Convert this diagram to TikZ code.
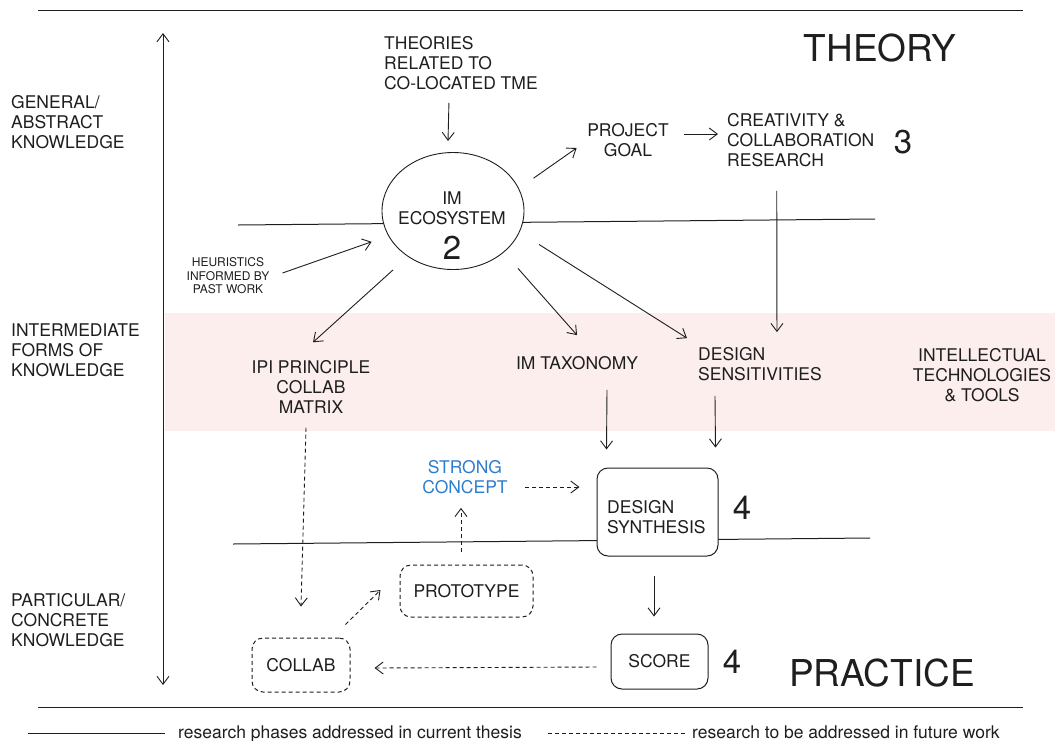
\documentclass[tikz,border=0pt]{standalone}
\usepackage{fontspec}
\setmainfont{TeX Gyre Heros}
\usetikzlibrary{arrows.meta,shapes.geometric}
\definecolor{ink}{RGB}{30,30,30}
\definecolor{band}{RGB}{252,238,237}
\definecolor{conceptblue}{RGB}{45,125,205}
\begin{document}
\begin{tikzpicture}[x=1pt,y=-1pt,
  txt/.style={inner sep=0pt, text=ink, font=\fontsize{17.5}{20}\selectfont},
  smalltxt/.style={inner sep=0pt, text=ink, font=\fontsize{12}{13.5}\selectfont},
  numtxt/.style={inner sep=0pt, text=ink, font=\fontsize{33}{36}\selectfont},
  bigtxt/.style={inner sep=0pt, text=ink, font=\fontsize{37}{40}\selectfont},
  arr/.style={draw=ink, line width=0.9pt, -{Straight Barb[length=8pt,width=12pt]}},
  darr/.style={arr, dash pattern=on 4pt off 3pt},
  rule/.style={draw=ink, line width=1pt},
  solidbox/.style={draw=ink, line width=1pt, rounded corners=11pt, fill=white, inner sep=0pt},
  dashbox/.style={solidbox, dash pattern=on 4pt off 3pt}]
\useasboundingbox (0,0) rectangle (1055,740);
% pink band
\fill[band] (165,313) rectangle (1055,431);
% horizontal rules
\draw[rule] (38,10) -- (1023,10);
\draw[rule] (38,707) -- (1023,707);
\draw[rule] (238,225) -- (875,219);
\draw[rule] (233,544) -- (870,538);
% vertical axis
\coordinate (axtop) at (163,33);
\coordinate (axbot) at (163,685);
\draw[draw=ink, line width=0.9pt, {Straight Barb[length=8pt,width=12pt]}-{Straight Barb[length=8pt,width=12pt]}] (axtop) -- (axbot);
% left labels
\node[txt, align=left, anchor=west] (lgen) at (11,122) {GENERAL/\\ABSTRACT\\KNOWLEDGE};
\node[txt, align=left, anchor=west] (lint) at (11,350) {INTERMEDIATE\\FORMS OF\\KNOWLEDGE};
\node[txt, align=left, anchor=west] (lpar) at (11,620) {PARTICULAR/\\CONCRETE\\KNOWLEDGE};
% titles
\node[bigtxt] (theory) at (880,48) {THEORY};
\node[bigtxt] (practice) at (882,673) {PRACTICE};
% nodes
\node[txt, align=left, anchor=west] (theories) at (384,63) {THEORIES\\RELATED TO\\CO-LOCATED TME};
\node[ellipse, draw=ink, line width=0.9pt, fill=white, minimum width=142pt, minimum height=117pt, inner sep=0pt] (eco) at (453,211) {};
\node[txt, align=center] (ecotxt) at (452,208) {IM\\ECOSYSTEM};
\node[numtxt] (n2) at (452,248) {2};
\node[txt, align=center] (goal) at (628,140) {PROJECT\\GOAL};
\node[txt, align=left, anchor=west] (creat) at (727,140) {CREATIVITY \&\\COLLABORATION\\RESEARCH};
\node[numtxt] (n3) at (903,142) {3};
\node[smalltxt, align=center] (heur) at (228,276) {HEURISTICS\\INFORMED BY\\PAST WORK};
\node[txt, align=center] (ipi) at (311,387) {IPI PRINCIPLE\\COLLAB\\MATRIX};
\node[txt] (tax) at (577,363) {IM TAXONOMY};
\node[txt, align=left, anchor=west] (desens) at (698,364) {DESIGN\\SENSITIVITIES};
\node[txt, align=center] (intel) at (982,375) {INTELLECTUAL\\TECHNOLOGIES\\\& TOOLS};
\node[txt, align=center, text=conceptblue] (strong) at (465,477) {STRONG\\CONCEPT};
\node[solidbox, minimum width=121pt, minimum height=88pt] (dsyn) at (657.5,512) {};
\node[txt, align=left, anchor=west] (dsyntxt) at (607,517) {DESIGN\\SYNTHESIS};
\node[numtxt] (n4a) at (742,508) {4};
\node[txt, solidbox, minimum width=97pt, minimum height=55pt] (sc) at (659.5,661.5) {\raisebox{-4pt}{SCORE}};
\node[numtxt] (n4b) at (732,662) {4};
\node[txt, dashbox, minimum width=133pt, minimum height=52pt] (pro) at (466.5,591) {PROTOTYPE};
\node[txt, dashbox, minimum width=98pt, minimum height=54pt] (col) at (301,665) {COLLAB};
% connectors
\draw[arr] ([shift={(-12,13)}]theories.south) -- ([shift={(-5,-11)}]eco.north);
\draw[arr] ([shift={(22,1)}]eco.30) -- ([shift={(-10.5,8)}]goal.west);
\draw[arr] ([shift={(15,-6)}]goal.east) -- ([shift={(-9,-6)}]creat.west);
\draw[arr] ([shift={(-24,24)}]creat.south) -- ([shift={(17,-15)}]desens.north);
\draw[arr] ([shift={(13,-3)}]heur.east) -- ([shift={(-16,7)}]eco.200);
\draw[arr] ([shift={(-60,0)}]eco.south) -- ([shift={(2,-18)}]ipi.north);
\draw[arr] ([shift={(65,-1.5)}]eco.south) -- ([shift={(0,-21)}]tax.north);
\draw[arr] ([shift={(86,-25.5)}]eco.south) -- ([shift={(-11,-9)}]desens.north west);
\draw[arr] ([shift={(30,20)}]tax.south) -- ([shift={(10,-18)}]dsyn.north west);
\draw[arr] ([shift={(17,15)}]desens.south west) -- ([shift={(-3,-20)}]dsyn.north east);
\draw[arr] ([shift={(-3.5,19)}]dsyn.south) -- ([shift={(-5.5,-17)}]sc.north);
\draw[darr] ([shift={(17.5,10)}]strong.east) -- ([shift={(-17,-25)}]dsyn.west);
\draw[darr] ([shift={(-5.5,-13)}]pro.north) -- ([shift={(-4,14)}]strong.south);
\draw[darr] ([shift={(-5,-13)}]col.north east) -- ([shift={(-19,-1)}]pro.west);
\draw[darr] ([shift={(-5,14)}]ipi.south) -- ([shift={(0,-31)}]col.north);
\draw[darr] ([shift={(-14,5.5)}]sc.west) -- ([shift={(24,3)}]col.east);
% legend
\coordinate (lega) at (28,733);
\coordinate (legb) at (165,733);
\coordinate (legc) at (548,733);
\coordinate (legd) at (685,733);
\draw[rule] (lega) -- (legb);
\draw[rule, dash pattern=on 4pt off 3pt] (legc) -- (legd);
\node[txt, anchor=base west] (legtxta) at (178,738) {research phases addressed in current thesis};
\node[txt, anchor=base west] (legtxtb) at (692,738) {research to be addressed in future work};
\end{tikzpicture}
\end{document}
